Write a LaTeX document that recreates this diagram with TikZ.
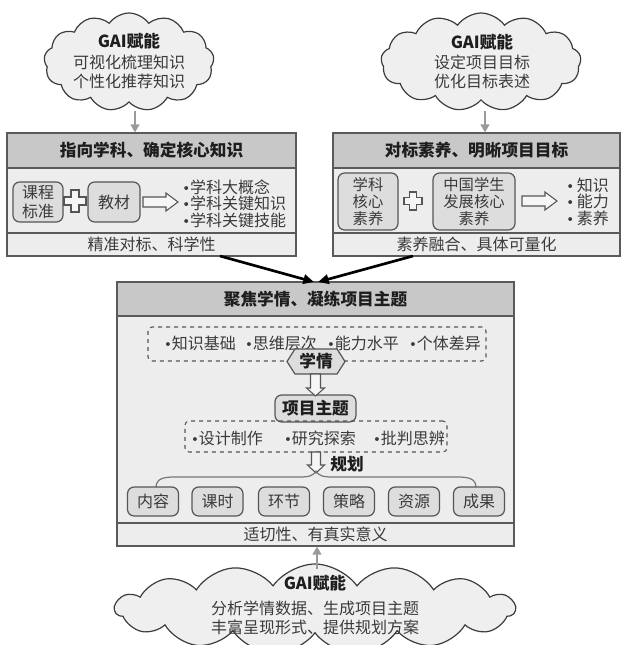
\documentclass[tikz,border=0pt]{standalone}
\usepackage{fontspec}
\setmainfont{Noto Sans CJK SC}
\newfontfamily\bulf{DejaVu Sans}
\newcommand{\bul}{{\bulf\fontsize{10}{12}\selectfont •}}
\usetikzlibrary{shapes.symbols,arrows.meta}
\definecolor{hdr}{HTML}{C8C8C8}
\definecolor{bodyc}{HTML}{EDEDED}
\definecolor{bd}{HTML}{5A5A5A}
\definecolor{rfill}{HTML}{DDDDDD}
\definecolor{rbd}{HTML}{555555}
\definecolor{cfill}{HTML}{EFEFEF}
\definecolor{cbd}{HTML}{3C3C3C}
\definecolor{txtc}{HTML}{3A3A3A}
\definecolor{hdc}{HTML}{1E1E1E}
\definecolor{garc}{HTML}{9A9A9A}
\definecolor{holf}{HTML}{F6F6F6}
\definecolor{brc}{HTML}{777777}
\tikzset{
  sz/.style 2 args={minimum width=#1*0.75pt, minimum height=#2*0.75pt},
  band/.style={draw=bd, line width=0.8pt, inner sep=0pt},
  hdrband/.style={band, fill=hdr},
  bodyband/.style={band, fill=bodyc},
  txt/.style={text=txtc, inner sep=0pt},
  hd/.style={text=hdc, font=\fontsize{12.5}{15}\selectfont\bfseries, inner sep=0pt},
  rbox/.style={draw=rbd, fill=rfill, rounded corners=5pt, line width=0.9pt, inner sep=0pt, align=center, text=txtc},
  dbox/.style={draw=rbd, dashed, rounded corners=3pt, line width=0.8pt, inner sep=0pt},
  cloudn/.style={cloud, cloud puffs=13, cloud puff arc=110, cloud ignores aspect, draw=cbd, fill=cfill, line width=0.9pt, inner sep=0pt},
  hollow/.style={draw=rbd, fill=holf, line width=0.8pt, line join=miter},
  garrow/.style={draw=garc, line width=2pt, -{Triangle[length=6pt,width=6.5pt]}},
  karrow/.style={draw=black, line width=2pt, -{Triangle[length=8pt,width=7pt]}},
  brace/.style={draw=brc, line width=0.9pt}
}
\begin{document}
\begin{tikzpicture}[x=0.75pt,y=-0.75pt, font=\fontsize{12}{14}\selectfont]
\useasboundingbox (0,0) rectangle (621,645);

% ---------- top clouds ----------
\node[cloudn, sz={170}{98}] (c1) at (129,62) {};
\node[hd] (c1t) at (129,41) {GAI赋能};
\node[txt] (c1a) at (129,62) {可视化梳理知识};
\node[txt] (c1b) at (129,81) {个性化推荐知识};

\node[cloudn, sz={200}{98}] (c2) at (481,62) {};
\node[hd] (c2t) at (482,42) {GAI赋能};
\node[txt] (c2a) at (482,62) {设定项目目标};
\node[txt] (c2b) at (482,81) {优化目标表述};

% ---------- left box ----------
\node[hdrband, sz={289}{35}, hd] (lh) at (151.5,150.5) {指向学科、确定核心知识};
\node[bodyband, sz={289}{65}] (lb) at (151.5,200.5) {};
\node[bodyband, sz={289}{23}, txt] (lf) at (151.5,244.5) {精准对标、科学性};

\node[rbox, sz={50}{40}] (kc) at (38,202) {课程\\标准};
\node[rbox, sz={52}{40}] (jc) at (114,202) {教材};
\draw[hollow, shift={(75,201)}] (-4,-11) -- (4,-11) -- (4,-4) -- (11,-4) -- (11,4) -- (4,4) -- (4,11) -- (-4,11) -- (-4,4) -- (-11,4) -- (-11,-4) -- (-4,-4) -- cycle;
\draw[hollow, shift={(143,202)}] (0,-5) -- (23,-5) -- (23,-9) -- (35,0) -- (23,9) -- (23,5) -- (0,5) -- cycle;
\node[txt, anchor=west] (l1) at (182,187) {\bul 学科大概念};
\node[txt, anchor=west] (l2) at (182,203.5) {\bul 学科关键知识};
\node[txt, anchor=west] (l3) at (182,220) {\bul 学科关键技能};

% ---------- right box ----------
\node[hdrband, sz={287}{35}, hd] (rh) at (476.5,150.5) {对标素养、明晰项目目标};
\node[bodyband, sz={287}{65}] (rb) at (476.5,200.5) {};
\node[bodyband, sz={287}{23}, txt] (rf) at (476.5,244.5) {素养融合、具体可量化};

\node[rbox, sz={60}{57}, font=\fontsize{11.5}{12.5}\selectfont] (hx) at (368,201.5) {学科\\核心\\素养};
\node[rbox, sz={82}{57}, font=\fontsize{11.5}{12.5}\selectfont] (zg) at (474,201.5) {中国学生\\发展核心\\素养};
\draw[hollow, shift={(413,201)}] (-3.5,-9) -- (3.5,-9) -- (3.5,-3.5) -- (9,-3.5) -- (9,3.5) -- (3.5,3.5) -- (3.5,9) -- (-3.5,9) -- (-3.5,3.5) -- (-9,3.5) -- (-9,-3.5) -- (-3.5,-3.5) -- cycle;
\draw[hollow, shift={(522,201)}] (0,-5) -- (23,-5) -- (23,-9) -- (35,0) -- (23,9) -- (23,5) -- (0,5) -- cycle;
\node[txt, anchor=west] (r1) at (566,185) {\bul\hspace{2pt}知识};
\node[txt, anchor=west] (r2) at (566,201.5) {\bul\hspace{2pt}能力};
\node[txt, anchor=west] (r3) at (566,218) {\bul\hspace{2pt}素养};

% ---------- middle box ----------
\node[hdrband, sz={397}{34}, hd] (mh) at (315.5,299) {聚焦学情、凝练项目主题};
\node[bodyband, sz={397}{207}] (mb) at (315.5,419.5) {};
\node[bodyband, sz={397}{23}, txt] (mf) at (315.5,534.5) {适切性、有真实意义};

\node[dbox, sz={338}{34}] (d1) at (317,344) {};
\node[txt] (x1) at (200,343) {\bul 知识基础};
\node[txt] (x2) at (281,343) {\bul 思维层次};
\node[txt] (x3) at (363,343) {\bul 能力水平};
\node[txt] (x4) at (445,343) {\bul 个体差异};

\node[signal, signal to=east and west, signal pointer angle=115, draw=rbd, fill=rfill, line width=0.9pt, sz={58}{25}, hd] (xq) at (316,361.5) {学情};
\node[rbox, sz={81}{27}, hd] (xm) at (315.5,408.5) {项目主题};
\draw[hollow, shift={(315.5,374)}] (-5,0) -- (5,0) -- (5,14) -- (9,14) -- (0,22) -- (-9,14) -- (-5,14) -- cycle;

\node[dbox, sz={262}{31}] (d2) at (316,436.5) {};
\node[txt] (y1) at (227,438) {\bul 设计制作};
\node[txt] (y2) at (320,438) {\bul 研究探索};
\node[txt] (y3) at (409,438) {\bul 批判思辨};

\draw[hollow, shift={(316,452)}] (-4.5,0) -- (4.5,0) -- (4.5,13) -- (8.5,13) -- (0,21) -- (-8.5,13) -- (-4.5,13) -- cycle;
\node[hd] (gh) at (347,464) {规划};

\coordinate (bl) at (156,488);
\coordinate (bm) at (316,471);
\coordinate (br) at (476,488);
\draw[brace] (bl) .. controls (156,479) and (162,477) .. (175,477) -- (300,477) .. controls (310,477) and (314,475) .. (bm) .. controls (318,475) and (322,477) .. (332,477) -- (457,477) .. controls (470,477) and (476,479) .. (br);

\node[rbox, sz={51}{29}] (n1) at (153,501.5) {内容};
\node[rbox, sz={51}{29}] (n2) at (217.5,501.5) {课时};
\node[rbox, sz={51}{29}] (n3) at (284,501.5) {环节};
\node[rbox, sz={51}{29}] (n4) at (349,501.5) {策略};
\node[rbox, sz={51}{29}] (n5) at (414,501.5) {资源};
\node[rbox, sz={51}{29}] (n6) at (479,501.5) {成果};

% ---------- bottom cloud ----------
\node[cloudn, cloud puffs=15, sz={400}{90}] (c3) at (315,609) {};
\node[hd] (c3t) at (315,583) {GAI赋能};
\node[txt] (c3a) at (315,608) {分析学情数据、生成项目主题};
\node[txt] (c3b) at (315,627) {丰富呈现形式、提供规划方案};

% ---------- connectors ----------
\coordinate (g1) at (135,111);
\draw[garrow] (g1) -- (g1 |- lh.north);
\coordinate (g2) at (485,111);
\draw[garrow] (g2) -- (g2 |- rh.north);
\coordinate (g3) at (317,569);
\draw[garrow] (g3) -- (g3 |- mf.south);

\coordinate (k1) at (220,256);
\coordinate (k2) at (413,256);
\coordinate (kt1) at (314,282);
\coordinate (kt2) at (318,282);
\draw[karrow] (k1) -- (kt1);
\draw[karrow] (k2) -- (kt2);
\end{tikzpicture}
\end{document}
